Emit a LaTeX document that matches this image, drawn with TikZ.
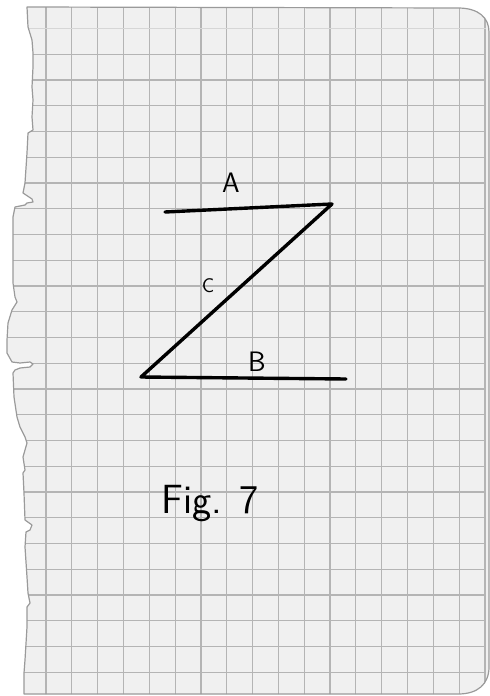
\documentclass[tikz,border=0pt]{standalone}
\usepackage{tikz}
\usetikzlibrary{calc}

\definecolor{paper}{HTML}{F0F0F0}
\definecolor{gridline}{HTML}{B4B4B4}
\definecolor{edge}{HTML}{9A9A9A}

% outline of the torn sheet, in pixel units
\newcommand{\sheetpath}{(27,7) -- (458,8) .. controls (479,8) and (489,18) .. (489,32)
  -- (489,667) .. controls (489,684) and (478,694) .. (458,694) -- (24,694)
  -- (24,673) -- (25,660) -- (27,627) -- (27,607) -- (30,603) -- (28,593) -- (27,577)
  -- (25,547) -- (26,532) -- (30,530) -- (32,525) -- (25,520) -- (24,493) -- (23,473)
  -- (25,470) -- (23,457) -- (27,443) -- (25,437) -- (20,427) -- (17,417) -- (14,397)
  -- (13,373) -- (15,370) -- (20,368) -- (30,367) -- (33,364) -- (30,362) -- (20,363)
  -- (12,362) -- (7,353) -- (7,340) -- (8,323) -- (12,310) -- (17,302) -- (15,297)
  -- (13,283) -- (13,240) -- (13,217) -- (15,207) -- (25,205) -- (27,203) -- (33,202)
  -- (32,199) -- (23,193) -- (25,183) -- (27,153) -- (28,133) -- (33,130) -- (32,117)
  -- (33,100) -- (32,87) -- (33,67) -- (33,53) -- (32,40) -- (28,27) -- cycle}

\begin{document}
\begin{tikzpicture}[x=0.25mm,y=-0.25mm,
  pen/.style={line width=0.85mm,line cap=round,line join=round,black},
  hand/.style={font=\sffamily\fontsize{20}{24}\selectfont,inner sep=0pt},
  rule/.style={gridline,line width=0.3mm}]
  \useasboundingbox (0,0) rectangle (489,696);

  % sheet and its grid
  \begin{scope}
    \clip \sheetpath;
    \fill[paper] (0,0) rectangle (489,696);
    \foreach \i [evaluate=\i as \gx using 46+25.82*\i] in {0,...,17}
      \draw[rule] (\gx,0) -- (\gx,696);
    \draw[rule,gridline!55] (0,28.5) -- (486,28.5);
    \foreach \j [evaluate=\j as \gy using 28.5+25.75*\j] in {1,...,25}
      \draw[rule] (0,\gy) -- (486,\gy);
  \end{scope}
  \draw[edge,line width=0.3mm,line join=round] \sheetpath;

  % the Z
  \coordinate (a1) at (165,212);
  \coordinate (a2) at (332,204);
  \coordinate (b1) at (141,377);
  \coordinate (b2) at (346,379);
  \draw[pen] (a1) -- (a2) -- (b1) -- (b2);

  \node[hand] (la) at (231,183) {A};
  \node[hand,font=\sffamily\fontsize{14}{16}\selectfont] (lc) at (208,286) {C};
  \node[hand] (lb) at (257,362) {B};
  \node[hand,font=\sffamily\fontsize{29}{32}\selectfont,anchor=base] (fig) at (210,513) {Fig. 7};
\end{tikzpicture}
\end{document}
